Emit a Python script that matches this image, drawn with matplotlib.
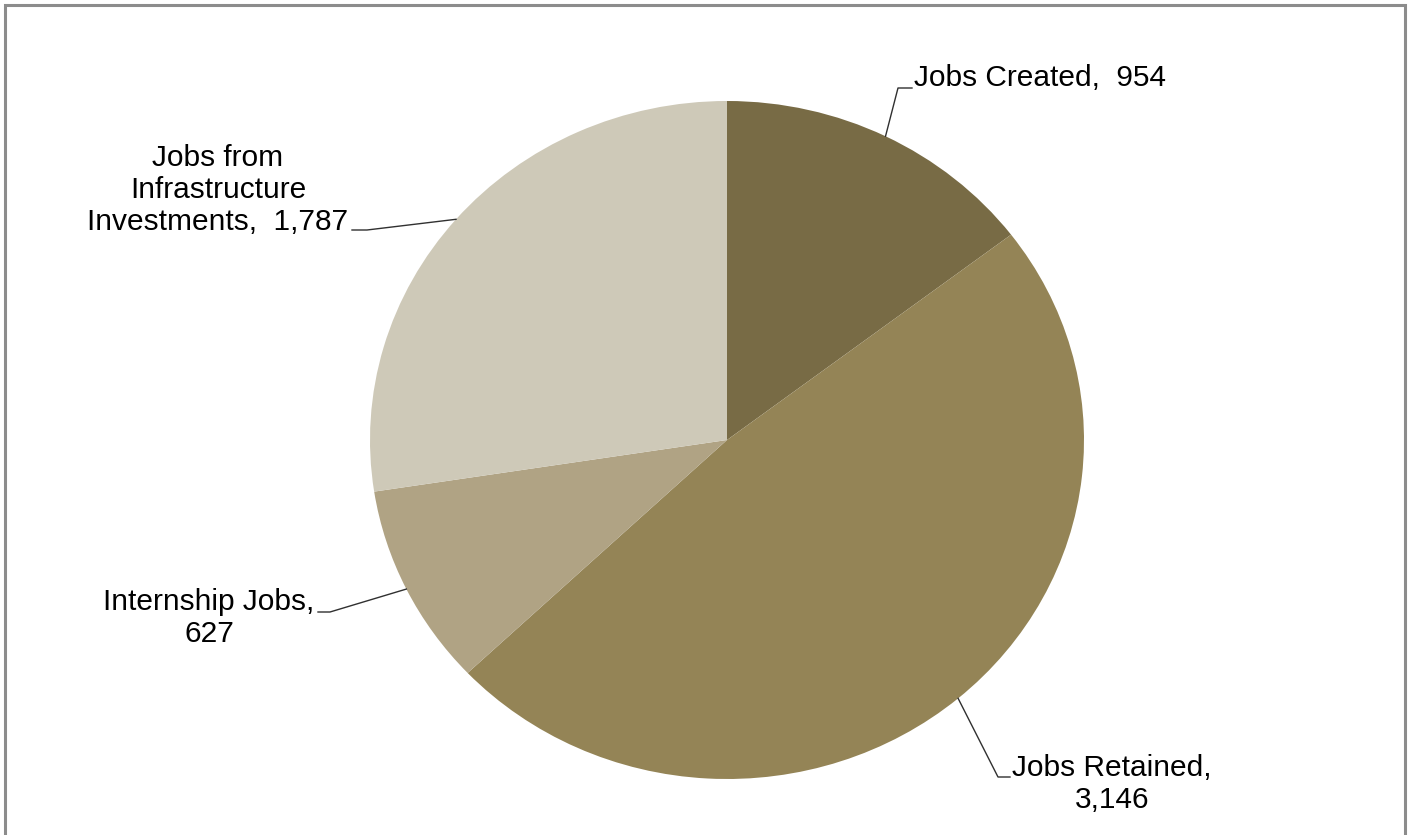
import numpy as np
import matplotlib.pyplot as plt
from matplotlib.patches import Rectangle

plt.rcParams['font.family'] = ['Liberation Sans', 'DejaVu Sans']

# data
categories = ['Jobs Created', 'Jobs Retained', 'Internship Jobs',
              'Jobs from Infrastructure Investments']
values = [954, 3146, 627, 1787]
label_texts = ['Jobs Created,  954', 'Jobs Retained,\n3,146',
               'Internship Jobs,\n627',
               'Jobs from\nInfrastructure\nInvestments,  1,787']
colors = ['#786b45', '#948456', '#b0a384', '#cec9b8']

W, H = 1409, 835
fig = plt.figure(figsize=(W / 100, H / 100), dpi=100, facecolor='white')

# pie centre / radii in pixels (the original is slightly wider than tall)
cx, cy, rx, ry = 727, 440, 357, 339
ax = fig.add_axes([(cx - rx) / W, 1 - (cy + ry) / H, 2 * rx / W, 2 * ry / H])
wedges, _ = ax.pie(values, colors=colors, startangle=90, counterclock=False,
                   radius=1, wedgeprops=dict(linewidth=0))
ax.set_aspect('auto')
ax.set_xlim(-1, 1)
ax.set_ylim(-1, 1)
ax.axis('off')


def to_data(px, py):
    return (px - cx) / rx, (cy - py) / ry


# text position (px), alignment, elbow points (px)
layout = [
    dict(pos=(914, 78), ha='left', elbow=[(898, 88), (912, 88)]),
    dict(pos=(1112, 784), ha='center', elbow=[(998, 777), (1010, 777)]),
    dict(pos=(209, 618), ha='center', elbow=[(330, 612), (318, 612)]),
    dict(pos=(218, 190), ha='center', elbow=[(367, 230), (352, 230)]),
]

for w, txt, lay in zip(wedges, label_texts, layout):
    mid = np.deg2rad((w.theta1 + w.theta2) / 2)
    pts = [(np.cos(mid), np.sin(mid))] + [to_data(*p) for p in lay['elbow']]
    xs, ys = zip(*pts)
    ax.plot(xs, ys, color='#303030', linewidth=1.0, clip_on=False)
    tx, ty = to_data(*lay['pos'])
    ax.text(tx, ty, txt, ha=lay['ha'], va='center', fontsize=21.5,
            linespacing=1.18, color='black', clip_on=False)

# chart frame
fig.patches.append(Rectangle((5 / W, -0.05), 1400 / W, 1.05 - 5 / H,
                             transform=fig.transFigure, fill=False,
                             edgecolor='#8c8c8c', linewidth=2.2))

fig.savefig('out.png', dpi=100, facecolor='white')
